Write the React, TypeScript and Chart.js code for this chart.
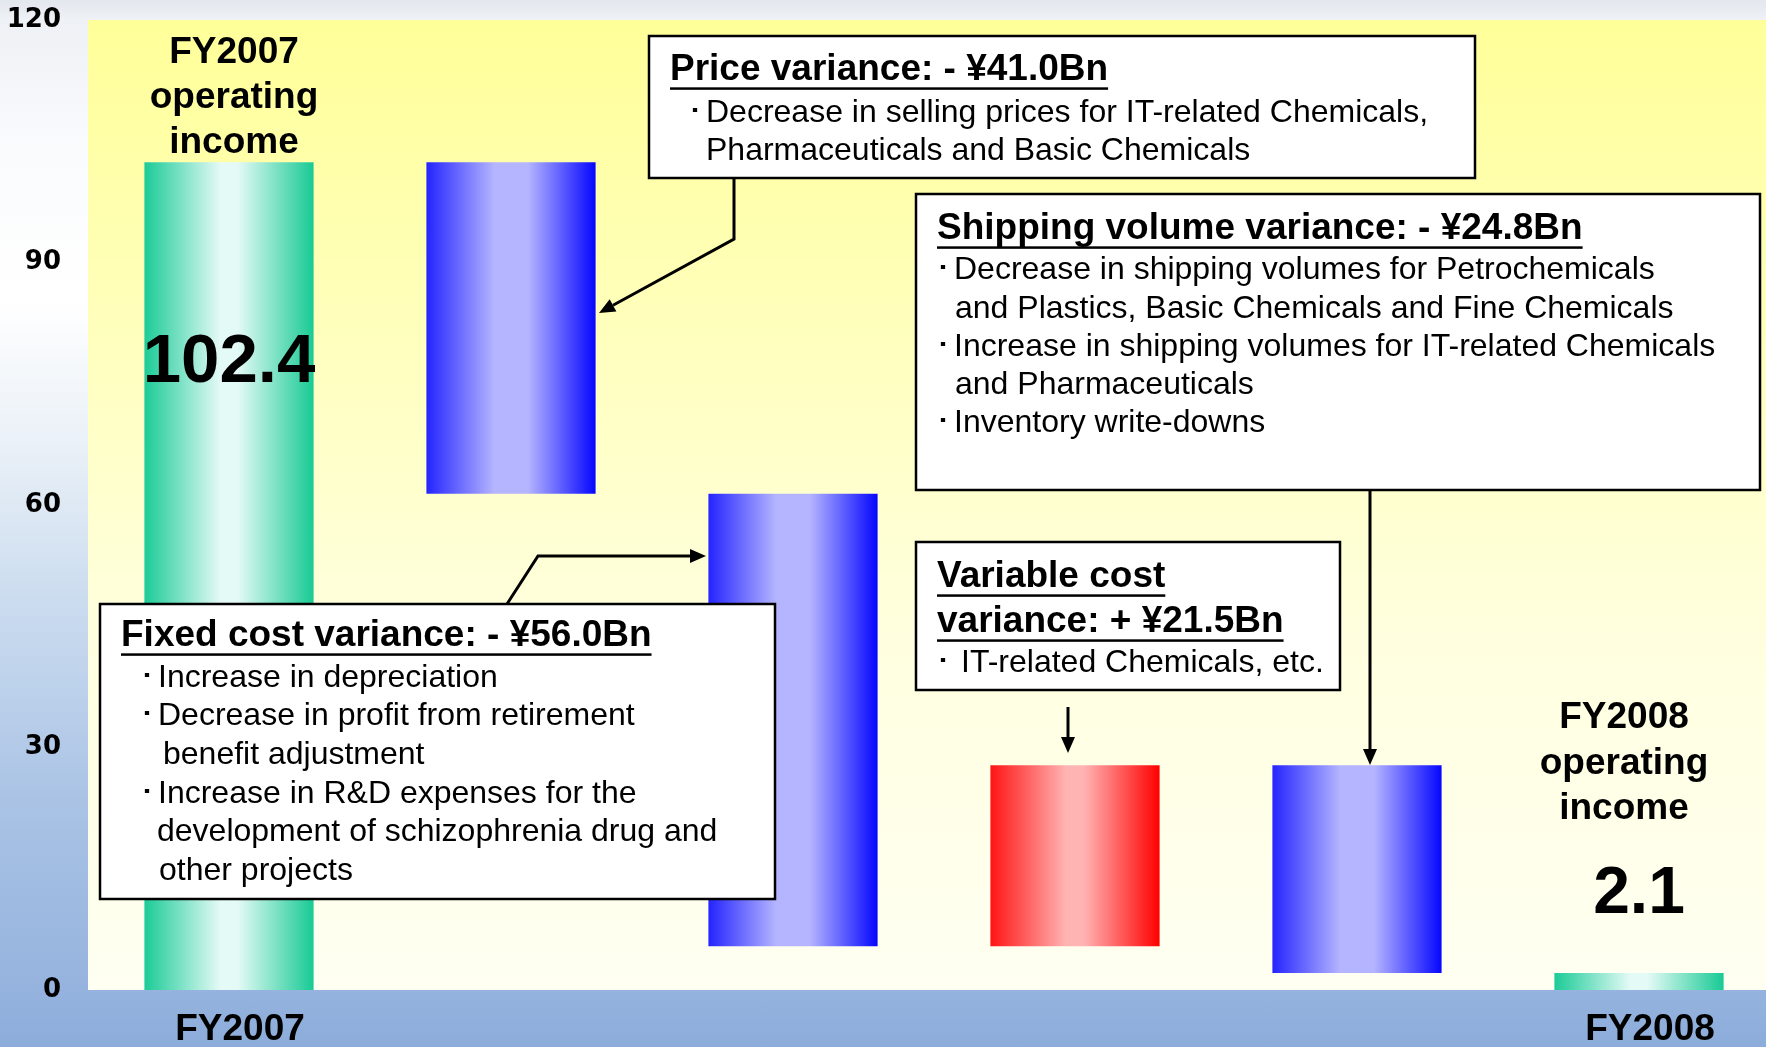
import React, { useEffect, useRef } from 'react';
import { Chart, registerables } from 'chart.js';

Chart.register(...registerables);

// ---------- data ----------
const categories = ['FY2007', '', '', '', '', 'FY2008'];
const stepNames = [
  'FY2007 operating income',
  'Price variance',
  'Fixed cost variance',
  'Variable cost variance',
  'Shipping volume variance',
  'FY2008 operating income',
];
const barLow = [0, 61.4, 5.4, 5.4, 2.1, 0];
const barHigh = [102.4, 102.4, 61.4, 27.8, 27.8, 2.1];
const barKind = ['total', 'down', 'down', 'up', 'down', 'total'];
const yMin = 0;
const yMax = 120;
const yStep = 30;

const startLabel = ['FY2007', 'operating', 'income'];
const endLabel = ['FY2008', 'operating', 'income'];
const startValue = '102.4';
const endValue = '2.1';

const priceTitle = 'Price variance: - ¥41.0Bn';
const priceLines = ['Decrease in selling prices for IT-related Chemicals,', 'Pharmaceuticals and Basic Chemicals'];
const shipTitle = 'Shipping volume variance: - ¥24.8Bn';
const shipLines = [
  'Decrease in shipping volumes for Petrochemicals',
  'and Plastics, Basic Chemicals and Fine Chemicals',
  'Increase in shipping volumes for IT-related Chemicals',
  'and Pharmaceuticals',
  'Inventory write-downs',
];
const varTitle = ['Variable cost', 'variance: + ¥21.5Bn'];
const varLines = ['IT-related Chemicals, etc.'];
const fixedTitle = 'Fixed cost variance: - ¥56.0Bn';
const fixedLines = [
  'Increase in depreciation',
  'Decrease in profit from retirement',
  'benefit adjustment',
  'Increase in R&D expenses for the',
  'development of schizophrenia drug and',
  'other projects',
];

// ---------- styles ----------
const SANS = '"Liberation Sans", Arial, Helvetica, sans-serif';
const VERD = '"DejaVu Sans", Verdana, sans-serif';
const BULLET = '\uFF65';

const palettes: Record<string, [number, string][]> = {
  total: [[0, '#1ccb97'], [0.45, '#e4faf6'], [0.55, '#e4faf6'], [1, '#18ca94']],
  down: [[0, '#2424ff'], [0.4, '#b4b4ff'], [0.6, '#b4b4ff'], [1, '#0606ff']],
  up: [[0, '#ff1414'], [0.45, '#ffb4b4'], [0.55, '#ffb4b4'], [1, '#ff0000']],
};
const BAR_PCT = 0.6;

function drawText(ctx: CanvasRenderingContext2D, s: string, x: number, y: number, size: number, bold: boolean, align: CanvasTextAlign = 'left', underline = false, family = SANS) {
  ctx.font = `${bold ? 'bold ' : ''}${size}px ${family}`;
  ctx.textAlign = align;
  ctx.textBaseline = 'middle';
  ctx.fillStyle = '#000';
  ctx.fillText(s, x, y);
  if (underline) {
    const w = ctx.measureText(s).width;
    const x0 = align === 'center' ? x - w / 2 : align === 'right' ? x - w : x;
    ctx.fillRect(x0, y + size * 0.36 + 4, w, 2.5);
  }
}

function drawBox(ctx: CanvasRenderingContext2D, x: number, y: number, w: number, h: number) {
  ctx.fillStyle = '#ffffff';
  ctx.fillRect(x, y, w, h);
  ctx.lineWidth = 2.5;
  ctx.strokeStyle = '#000';
  ctx.strokeRect(x, y, w, h);
}

function drawArrow(ctx: CanvasRenderingContext2D, pts: [number, number][]) {
  ctx.save();
  ctx.strokeStyle = '#000';
  ctx.fillStyle = '#000';
  ctx.lineWidth = 3;
  const n = pts.length;
  const [ex, ey] = pts[n - 1];
  const [px, py] = pts[n - 2];
  const ang = Math.atan2(ey - py, ex - px);
  const len = 16;
  const hw = 7;
  const bx = ex - Math.cos(ang) * len;
  const by = ey - Math.sin(ang) * len;
  ctx.beginPath();
  ctx.moveTo(pts[0][0], pts[0][1]);
  for (let i = 1; i < n - 1; i++) ctx.lineTo(pts[i][0], pts[i][1]);
  ctx.lineTo(bx, by);
  ctx.stroke();
  ctx.beginPath();
  ctx.moveTo(ex, ey);
  ctx.lineTo(bx - Math.sin(ang) * hw, by + Math.cos(ang) * hw);
  ctx.lineTo(bx + Math.sin(ang) * hw, by - Math.cos(ang) * hw);
  ctx.closePath();
  ctx.fill();
  ctx.restore();
}

const plotBg = {
  id: 'plotBg',
  beforeDraw(chart: any) {
    const { ctx, chartArea: a } = chart;
    if (!a) return;
    const g = ctx.createLinearGradient(0, a.top, 0, a.bottom);
    g.addColorStop(0, '#ffff99');
    g.addColorStop(0.35, '#ffffc0');
    g.addColorStop(0.65, '#ffffe0');
    g.addColorStop(1, '#fffff2');
    ctx.save();
    ctx.fillStyle = g;
    ctx.fillRect(a.left, a.top, a.right - a.left, a.bottom - a.top);
    ctx.restore();
  },
};

const annotations = {
  id: 'annotations',
  afterDatasetsDraw(chart: any) {
    const ctx: CanvasRenderingContext2D = chart.ctx;
    const xs = chart.scales.x;
    ctx.save();

    // start / end labels
    const c0 = xs.getPixelForValue(0);
    const c5 = xs.getPixelForValue(categories.length - 1);
    startLabel.forEach((s, i) => drawText(ctx, s, c0 + 5, 53 + i * 45, 37, true, 'center'));
    drawText(ctx, startValue, c0, 363, 69, true, 'center');
    endLabel.forEach((s, i) => drawText(ctx, s, c5 - 15, 718 + i * 45.5, 37, true, 'center'));
    drawText(ctx, endValue, c5, 895, 66, true, 'center');

    // arrows
    drawArrow(ctx, [[734, 178], [734, 239], [599, 313]]);
    drawArrow(ctx, [[1370, 490], [1370, 765]]);
    drawArrow(ctx, [[1068, 707], [1068, 753]]);
    drawArrow(ctx, [[507, 604], [538, 556], [706, 556]]);

    // price box
    drawBox(ctx, 649, 36, 826, 142);
    drawText(ctx, priceTitle, 670, 70, 37, true, 'left', true);
    drawText(ctx, BULLET, 695, 113, 32, false, 'center');
    drawText(ctx, priceLines[0], 706, 113, 32, false);
    drawText(ctx, priceLines[1], 706, 151, 32, false);

    // shipping box
    drawBox(ctx, 916, 194, 844, 296);
    drawText(ctx, shipTitle, 937, 229, 37, true, 'left', true);
    const shipY = [270, 309, 347, 385, 423];
    const shipBul = [true, false, true, false, true];
    shipLines.forEach((s, i) => {
      if (shipBul[i]) drawText(ctx, BULLET, 943, shipY[i], 32, false, 'center');
      drawText(ctx, s, shipBul[i] ? 954 : 955, shipY[i], 32, false);
    });

    // variable box
    drawBox(ctx, 916, 542, 424, 148);
    drawText(ctx, varTitle[0], 937, 577, 37, true, 'left', true);
    drawText(ctx, varTitle[1], 937, 622, 37, true, 'left', true);
    drawText(ctx, BULLET, 943, 663, 32, false, 'center');
    drawText(ctx, varLines[0], 961, 663, 32, false);

    // fixed box
    drawBox(ctx, 100, 604, 675, 295);
    drawText(ctx, fixedTitle, 121, 636, 37, true, 'left', true);
    const fixY = [678, 716, 755, 794, 832, 871];
    const fixX = [158, 158, 163, 158, 157, 159];
    const fixBul = [true, true, false, true, false, false];
    fixedLines.forEach((s, i) => {
      if (fixBul[i]) drawText(ctx, BULLET, 147, fixY[i], 32, false, 'center');
      drawText(ctx, s, fixX[i], fixY[i], 32, false);
    });

    ctx.restore();
  },
};

export default function App() {
  const ref = useRef<HTMLCanvasElement>(null);
  useEffect(() => {
    const canvas = ref.current;
    if (!canvas) return;
    const chart = new Chart(canvas, {
      type: 'bar',
      data: {
        labels: categories,
        datasets: [
          {
            label: 'Operating income bridge',
            data: categories.map((_, i) => [barLow[i], barHigh[i]]) as any,
            borderWidth: 0,
            barPercentage: BAR_PCT,
            categoryPercentage: 1,
            backgroundColor: (c: any) => {
              const stops = palettes[barKind[c.dataIndex] || 'down'];
              const chartObj = c.chart;
              const xs = chartObj.scales && chartObj.scales.x;
              if (!chartObj.chartArea || !xs || c.dataIndex === undefined) return stops[1][1];
              const center = xs.getPixelForValue(c.dataIndex);
              const half = ((xs.width / categories.length) * BAR_PCT) / 2;
              const g = chartObj.ctx.createLinearGradient(center - half, 0, center + half, 0);
              stops.forEach(([o, col]) => g.addColorStop(o, col));
              return g;
            },
          },
        ],
      },
      options: {
        responsive: false,
        animation: false,
        layout: { padding: { top: 20, right: 10, left: 0, bottom: 0 } },
        plugins: {
          legend: { display: false },
          tooltip: { enabled: false },
          title: { display: false },
        },
        scales: {
          x: {
            grid: { display: false, drawTicks: false },
            border: { display: false },
            ticks: {
              color: '#000',
              font: { family: SANS, size: 37, weight: 'bold' },
              padding: 18,
              labelOffset: 11,
              maxRotation: 0,
              autoSkip: false,
            },
            afterFit: (s: any) => {
              s.height = 57;
              s.paddingLeft = 0;
              s.paddingRight = 0;
            },
          },
          y: {
            min: yMin,
            max: yMax,
            grid: { display: false, drawTicks: false },
            border: { display: false },
            ticks: {
              stepSize: yStep,
              color: '#000',
              font: { family: VERD, size: 26, weight: 'bold' },
              padding: 27,
            },
            afterFit: (s: any) => {
              s.width = 88;
              s.paddingTop = 0;
              s.paddingBottom = 0;
            },
          },
        },
      },
      plugins: [plotBg, annotations],
    });
    return () => chart.destroy();
  }, []);

  return (
    <div
      style={{
        position: 'fixed',
        left: 0,
        top: 0,
        width: 1766,
        height: 1047,
        overflow: 'hidden',
        background:
          'linear-gradient(to bottom, #e3e7ee 0px, #eef1f5 20px, #fafbfd 150px, #ffffff 300px, #e9f0f7 450px, #cbdcef 600px, #aac3e5 800px, #95b3de 990px, #8cacda 1047px)',
      }}
    >
      <canvas ref={ref} width={1790} height={1047} style={{ display: 'block' }} aria-label={stepNames.join(', ')} />
    </div>
  );
}
